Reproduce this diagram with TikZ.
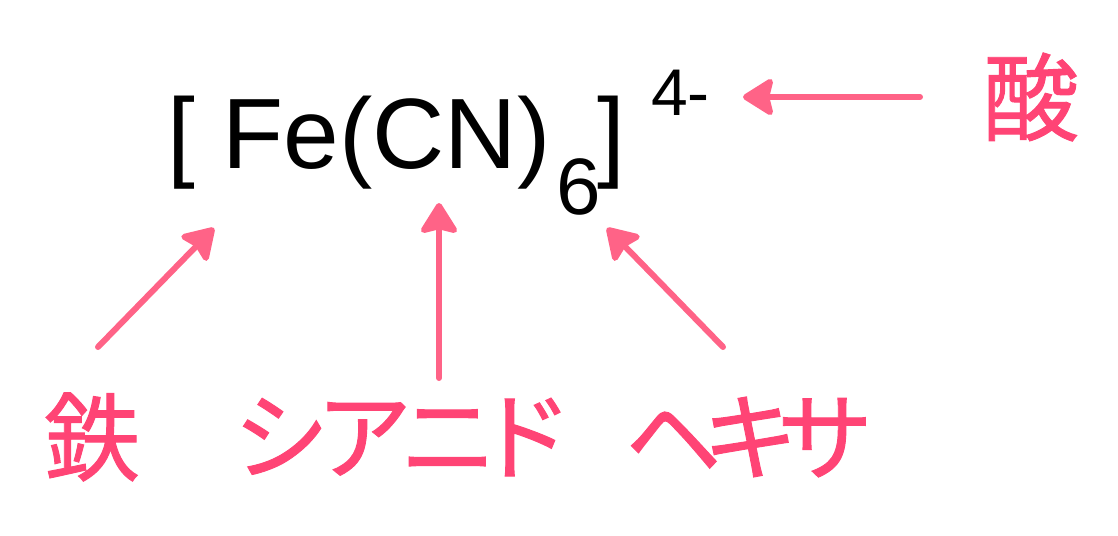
\documentclass[tikz,border=0pt]{standalone}
\usepackage{fontspec}
\setmainfont{Liberation Sans}
\newfontfamily\jpfont{Noto Sans CJK JP}[RawFeature=+palt, FakeBold=1]
\usetikzlibrary{arrows.meta}
\definecolor{namepink}{RGB}{255,68,117}
\definecolor{arrowpink}{RGB}{255,99,135}

\begin{document}
\begin{tikzpicture}[x=1pt, y=-1pt,
formula/.style={
% The shape:
inner sep=0pt,
% placed on its base line
anchor=base west,
% Font
text=black
},
reading/.style={
inner sep=0pt,
% Font
text=namepink,
font=\jpfont\fontsize{96}{96}\selectfont
},
pointer/.style={
% The line:
draw=arrowpink,
line width=6pt,
line cap=round,
% The tip
-{Stealth[length=34pt, width=42pt, inset=5pt, round]}
}]
\useasboundingbox (0,0) rectangle (1118,535);
% the formula
\node [formula, font=\fontsize{100}{100}\selectfont] (ligand) at (167,168) {[ Fe(CN)};
\node [formula, font=\fontsize{80}{80}\selectfont] (count) at (556,214) {6};
\node [formula, font=\fontsize{100}{100}\selectfont] (close) at (597,168) {]};
\node [formula, font=\fontsize{66}{66}\selectfont] (charge) at (651,115) {4-};
% the readings
\node [reading] (tetsu) at (92,437) {鉄};
\node [reading] (cyanide) at (399,437) {\addfontfeature{LetterSpace=-4}シアニド};
\node [reading] (hexa) at (747,437) {\addfontfeature{LetterSpace=-17}ヘキサ};
\node [reading] (acid) at (1031,97) {酸};
% where the arrows start and end
\coordinate (tetsu from) at (98,347);
\coordinate (tetsu to) at (214,228);
\coordinate (cyanide from) at (439,378);
\coordinate (cyanide to) at (439,203);
\coordinate (hexa from) at (723,347);
\coordinate (hexa to) at (607,228);
\coordinate (acid from) at (920,97);
\coordinate (acid to) at (743,97);
\draw [pointer] (tetsu from) -- (tetsu to);
\draw [pointer] (cyanide from) -- (cyanide to);
\draw [pointer] (hexa from) -- (hexa to);
\draw [pointer] (acid from) -- (acid to);
\end{tikzpicture}
\end{document}
